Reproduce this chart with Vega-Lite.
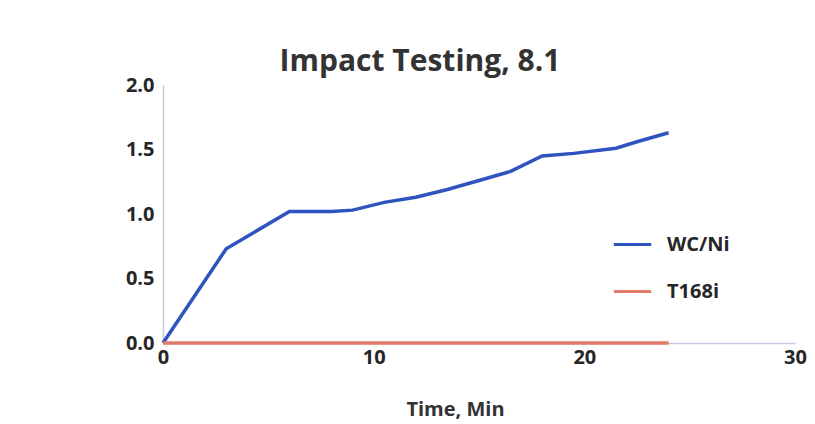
{
  "$schema": "https://vega.github.io/schema/vega-lite/v6.json",
  "autosize": "none",
  "width": 632,
  "height": 258,
  "padding": {"left": 163, "top": 85, "right": 20, "bottom": 81},
  "background": "white",
  "title": {
    "text": "Impact Testing, 8.1",
    "font": "Open Sans",
    "fontSize": 30,
    "fontWeight": "bold",
    "color": "#333333",
    "anchor": "middle",
    "dx": -59,
    "offset": -2
  },
  "data": {
    "values": [
      {"time": 0, "value": 0, "series": "WC/Ni"},
      {"time": 3, "value": 0.73, "series": "WC/Ni"},
      {"time": 6, "value": 1.02, "series": "WC/Ni"},
      {"time": 8, "value": 1.02, "series": "WC/Ni"},
      {"time": 9, "value": 1.03, "series": "WC/Ni"},
      {"time": 10.5, "value": 1.09, "series": "WC/Ni"},
      {"time": 12, "value": 1.13, "series": "WC/Ni"},
      {"time": 13.5, "value": 1.19, "series": "WC/Ni"},
      {"time": 15, "value": 1.26, "series": "WC/Ni"},
      {"time": 16.5, "value": 1.33, "series": "WC/Ni"},
      {"time": 18, "value": 1.45, "series": "WC/Ni"},
      {"time": 19.5, "value": 1.47, "series": "WC/Ni"},
      {"time": 21.5, "value": 1.51, "series": "WC/Ni"},
      {"time": 22.5, "value": 1.56, "series": "WC/Ni"},
      {"time": 24, "value": 1.63, "series": "WC/Ni"},
      {"time": 0, "value": 0, "series": "T168i"},
      {"time": 24, "value": 0, "series": "T168i"}
    ]
  },
  "mark": {"type": "line", "strokeWidth": 3.5},
  "encoding": {
    "x": {
      "field": "time",
      "type": "quantitative",
      "scale": {"domain": [0, 30], "nice": false},
      "axis": {
        "title": "Time, Min",
        "values": [0, 10, 20, 30],
        "grid": false,
        "ticks": false,
        "domainColor": "#c5cbe3",
        "domainWidth": 1.5,
        "labelFont": "Open Sans",
        "labelFontSize": 20,
        "labelFontWeight": "bold",
        "labelColor": "#262626",
        "labelPadding": 4,
        "labelFlush": false,
        "titleFont": "Open Sans",
        "titleFontSize": 20,
        "titleFontWeight": "bold",
        "titleColor": "#333333",
        "titlePadding": 32,
        "titleX": 292
      }
    },
    "y": {
      "field": "value",
      "type": "quantitative",
      "scale": {"domain": [0, 2], "nice": false},
      "axis": {
        "title": null,
        "values": [0, 0.5, 1, 1.5, 2],
        "format": ".1f",
        "grid": false,
        "ticks": false,
        "domainColor": "#c5cbe3",
        "domainWidth": 1.5,
        "labelFont": "Open Sans",
        "labelFontSize": 20,
        "labelFontWeight": "bold",
        "labelColor": "#262626",
        "labelPadding": 9
      }
    },
    "color": {
      "field": "series",
      "type": "nominal",
      "scale": {"domain": ["WC/Ni", "T168i"], "range": ["#2f54c0", "#e07a6a"]},
      "legend": {
        "title": null,
        "orient": "none",
        "legendX": 449,
        "legendY": 139,
        "symbolType": "stroke",
        "symbolSize": 1400,
        "symbolStrokeWidth": 3,
        "labelFont": "Open Sans",
        "labelFontSize": 20,
        "labelFontWeight": "bold",
        "labelColor": "#262626",
        "rowPadding": 16,
        "labelOffset": 14
      }
    }
  },
  "config": {"view": {"stroke": null}}
}
